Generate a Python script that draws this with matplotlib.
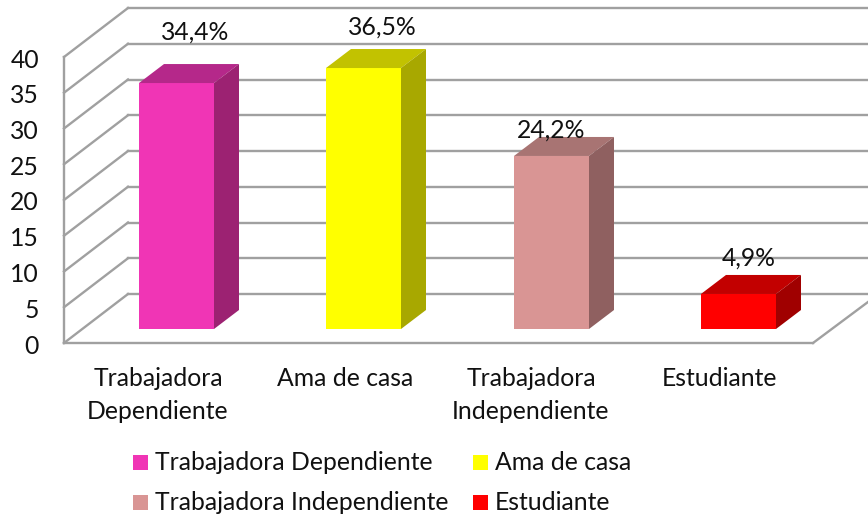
import matplotlib
matplotlib.use("Agg")
import matplotlib.pyplot as plt
from matplotlib.patches import Polygon, Rectangle

# data
categories = ["Trabajadora\nDependiente", "Ama de casa", "Trabajadora\nIndependiente", "Estudiante"]
values = [34.4, 36.5, 24.2, 4.9]
labels = ["34,4%", "36,5%", "24,2%", "4,9%"]
front_colors = ["#F035B5", "#FFFF00", "#D99594", "#FF0000"]
top_colors = ["#B5288A", "#C2C200", "#A87473", "#C20000"]
side_colors = ["#9C2272", "#A8A800", "#8F6060", "#A00000"]
yticks = [0, 5, 10, 15, 20, 25, 30, 35, 40]
legend_names = ["Trabajadora Dependiente", "Ama de casa", "Trabajadora Independiente", "Estudiante"]

W, H = 868, 520
FS = 17.8
plt.rcParams["font.family"] = ["Lato", "DejaVu Sans"]

fig = plt.figure(figsize=(W / 100, H / 100), dpi=100)
ax = fig.add_axes([0, 0, 1, 1])
ax.set_xlim(0, W)
ax.set_ylim(H, 0)
ax.axis("off")

# pixel scale: 0 at 343, 40 at 57 on the front plane
y0, per_unit = 343, (343 - 57) / 40
dx, dy = 64, 49
x_left, x_right = 64, 813
grid = "#A0A0A0"


def ypix(v):
    return y0 - v * per_unit


for t in yticks:
    y = ypix(t)
    ax.plot([x_left + dx, 880], [y - dy, y - dy], color=grid, lw=1.7, zorder=1)
    ax.plot([x_left, x_left + dx], [y, y - dy], color=grid, lw=1.7, zorder=1)
    ax.text(39, y + 3, str(t), ha="right", va="center", fontsize=FS, color="#111111")
ax.plot([x_left, x_left], [ypix(0), ypix(40)], color=grid, lw=1.7, zorder=1)
ax.plot([x_left, x_right], [y0, y0], color=grid, lw=1.7, zorder=1)
ax.plot([x_right, 872], [y0, y0 - 44], color=grid, lw=1.7, zorder=1)

# bars
bar_lefts = [139, 326, 514, 701]
bar_w = 75
base = 329
ox, oy = 25, 19
for i, v in enumerate(values):
    xl = bar_lefts[i]
    top = base - v * per_unit
    ax.add_patch(Rectangle((xl, top), bar_w, base - top, fc=front_colors[i], ec="none", zorder=3))
    ax.add_patch(Polygon([(xl, top), (xl + ox, top - oy), (xl + bar_w + ox, top - oy), (xl + bar_w, top)],
                         fc=top_colors[i], ec="none", zorder=3))
    ax.add_patch(Polygon([(xl + bar_w, top), (xl + bar_w + ox, top - oy), (xl + bar_w + ox, base - oy), (xl + bar_w, base)],
                         fc=side_colors[i], ec="none", zorder=3))

label_xy = [(195, 32), (382, 27), (551, 130), (749, 258)]
for (lx, ly), s in zip(label_xy, labels):
    ax.text(lx, ly, s, ha="center", va="center", fontsize=FS, color="#111111", zorder=5)

cat_xy = [(158, 395), (345, 378), (531, 395), (719, 378)]
for (cx, cy), s in zip(cat_xy, categories):
    ax.text(cx, cy, s, ha="center", va="center", fontsize=FS, color="#111111", linespacing=1.55)

# legend
leg_xy = [(133, 462), (473, 462), (133, 502), (473, 502)]
for (lx, ly), s, c in zip(leg_xy, legend_names, front_colors):
    ax.add_patch(Rectangle((lx, ly - 7), 15, 15, fc=c, ec="none"))
    ax.text(lx + 22, ly + 1, s, ha="left", va="center", fontsize=FS, color="#111111")

fig.savefig("out.png", dpi=100)
